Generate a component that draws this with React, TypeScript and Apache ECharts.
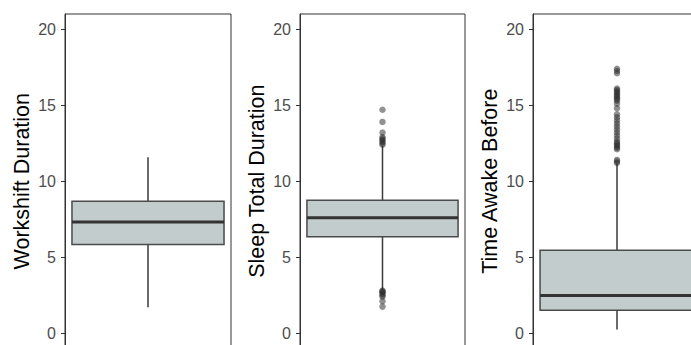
import React, { useEffect, useRef } from "react";
import * as echarts from "echarts";

// [min whisker, Q1, median, Q3, max whisker]
const workshiftBox = [1.7, 5.83, 7.32, 8.68, 11.58];
const sleepBox = [2.83, 6.34, 7.59, 8.75, 12.32];
const awakeBox = [0.24, 1.51, 2.48, 5.46, 11.16];

const workshiftOutliers: number[] = [];
const sleepOutliers = [14.7, 13.9, 13.2, 12.9, 12.8, 12.7, 12.6, 12.5, 12.4, 2.8, 2.75, 2.7, 2.6, 2.5, 2.4, 2.1, 1.75];
const awakeOutliers = [
  17.4, 17.25, 17.1, 16.1, 16.0, 15.9, 15.8, 15.7, 15.6, 15.5, 15.4, 15.3, 15.1, 14.8, 14.4, 14.2, 14.0, 13.8,
  13.6, 13.4, 13.2, 13.0, 12.8, 12.6, 12.5, 12.4, 12.3, 12.2, 12.1, 11.4, 11.3, 11.2,
];

const axisNames = ["Workshift Duration", "Sleep Total Duration", "Time Awake Before"];
const tickValues = [0, 5, 10, 15, 20];

const FONT = "'Liberation Sans', Arial, sans-serif";

export default function App() {
  const ref = useRef<HTMLDivElement>(null);
  useEffect(() => {
    if (!ref.current) return;
    const chart = echarts.init(ref.current, null, { renderer: "svg" });
    const boxes = [workshiftBox, sleepBox, awakeBox];
    const outliers = [workshiftOutliers, sleepOutliers, awakeOutliers];
    const lefts = [65, 300, 533];
    const widths = [166, 165, 168];
    const unit = 15.2;
    const yMin = -1;
    const yMax = 21;

    const grid = lefts.map((l, i) => ({
      left: l,
      top: 14,
      width: widths[i],
      height: (yMax - yMin) * unit,
      show: true,
      borderColor: "#333",
      borderWidth: 1,
      backgroundColor: "transparent",
      containLabel: false,
      outerBoundsMode: "none",
    }));

    const xAxis = lefts.map((_, i) => ({
      type: "category",
      gridIndex: i,
      data: ["a"],
      show: false,
    }));

    const yAxis = lefts.map((_, i) => ({
      type: "value",
      gridIndex: i,
      min: yMin,
      max: yMax,
      name: axisNames[i],
      nameLocation: "middle",
      nameGap: 32,
      nameTextStyle: { fontSize: 21.5, color: "#000", fontFamily: FONT },
      axisLine: { show: true, lineStyle: { color: "#333", width: 1 } },
      axisTick: { show: true, length: 4, customValues: tickValues, lineStyle: { color: "#333" } },
      axisLabel: {
        show: true,
        customValues: tickValues,
        margin: 9,
        fontSize: 16,
        color: "#4d4d4d",
        fontFamily: FONT,
      },
      splitLine: { show: false },
    }));

    const series: any[] = [];
    boxes.forEach((b, i) => {
      series.push({
        type: "custom",
        xAxisIndex: i,
        yAxisIndex: i,
        encode: { x: 0, y: [1, 2, 3, 4, 5] },
        data: [[0, ...b]],
        renderItem: (params: any, api: any) => {
          const x = api.value(0);
          const pMin = api.coord([x, api.value(1)]);
          const pQ1 = api.coord([x, api.value(2)]);
          const pMed = api.coord([x, api.value(3)]);
          const pQ3 = api.coord([x, api.value(4)]);
          const pMax = api.coord([x, api.value(5)]);
          const band = api.size([1, 0])[0];
          const half = band * 0.458;
          const cx = pMed[0];
          return {
            type: "group",
            children: [
              {
                type: "line",
                shape: { x1: cx, y1: pMin[1], x2: cx, y2: pMax[1] },
                style: { stroke: "#3a3a3a", lineWidth: 1.5 },
              },
              {
                type: "rect",
                shape: { x: cx - half, y: pQ3[1], width: half * 2, height: pQ1[1] - pQ3[1] },
                style: { fill: "#c3cccc", stroke: "#4a4a4a", lineWidth: 1.5 },
              },
              {
                type: "line",
                shape: { x1: cx - half, y1: pMed[1], x2: cx + half, y2: pMed[1] },
                style: { stroke: "#333333", lineWidth: 3 },
              },
            ],
          };
        },
        z: 2,
      });
      series.push({
        type: "scatter",
        xAxisIndex: i,
        yAxisIndex: i,
        data: outliers[i].map((v) => [0, v]),
        symbol: "circle",
        symbolSize: 6.5,
        itemStyle: { color: "rgba(45,45,45,0.65)" },
        z: 3,
      });
    });

    chart.setOption({
      animation: false,
      textStyle: { fontFamily: FONT },
      grid,
      xAxis,
      yAxis,
      series,
    });
    return () => chart.dispose();
  }, []);
  return <div ref={ref} style={{ width: 691, height: 345, position: "absolute", left: 0, top: 0 }} />;
}
